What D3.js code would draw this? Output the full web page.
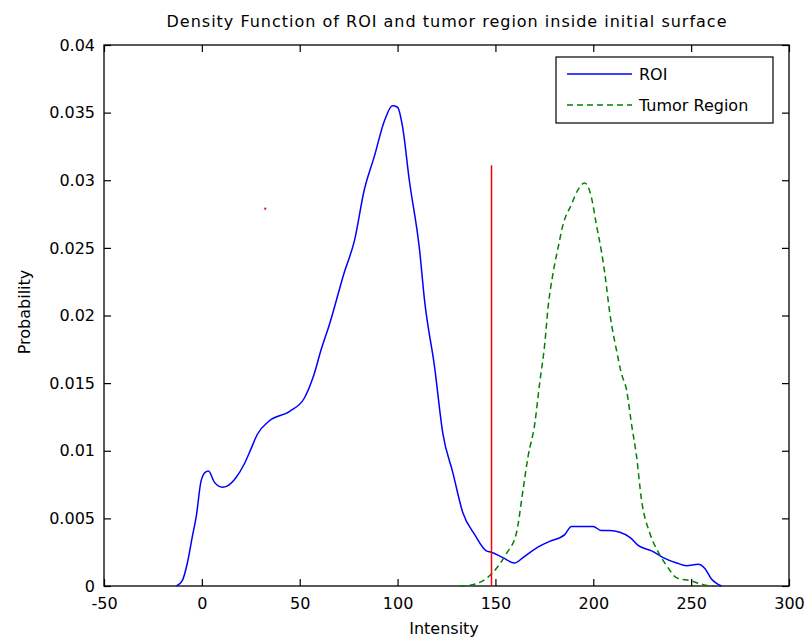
<!DOCTYPE html>
<html>
<head>
<meta charset="utf-8">
<script src="https://cdn.jsdelivr.net/npm/d3@7"></script>
<style>
  body { margin: 0; background: #fff; }
  text { font-family: "DejaVu Sans", Arial, sans-serif; font-size: 16px; fill: #000; }
</style>
</head>
<body>
<svg id="chart" width="805" height="640"></svg>
<script>
// Data

const roiX = [-13, -10, -7.4, -4.8, -2.8, -0.5, 1.7, 3.4, 6.3, 10.5, 13.1, 17.4, 21.6, 25, 28.3, 34.4, 44.7, 52.4, 57, 61, 65.1, 72.8, 77.9, 83, 88.2, 93.3, 97.4, 100, 102.5, 106, 111.2, 113.8, 118.9, 123.1, 128.2, 133.4, 139.4, 145.3, 147.9, 153.8, 159.8, 164.1, 170.9, 177.7, 185.4, 188.8, 199.9, 204.1, 208.4, 218.7, 222.9, 229.8, 235.7, 242.6, 247.7, 253.6, 257, 260.5, 265.6];
const roiY = [0, 0.0004, 0.0017, 0.0037, 0.0052, 0.0077, 0.0084, 0.0085, 0.0077, 0.0073, 0.0074, 0.008, 0.009, 0.0101, 0.0112, 0.0122, 0.0129, 0.0139, 0.0155, 0.0175, 0.0193, 0.0232, 0.0255, 0.0293, 0.0318, 0.0344, 0.0355, 0.0354, 0.0340, 0.0300, 0.0249, 0.0211, 0.0162, 0.0113, 0.0084, 0.0054, 0.0038, 0.0026, 0.0025, 0.0021, 0.0017, 0.0021, 0.0028, 0.0033, 0.0038, 0.0044, 0.0044, 0.0041, 0.0041, 0.0036, 0.003, 0.0026, 0.0021, 0.0017, 0.0015, 0.0016, 0.0013, 0.0005, 0];

const tumorX = [131.7, 138.5, 148.7, 155.6, 160.7, 164.1, 166.7, 170.1, 172.6, 175.2, 176.9, 179.4, 182, 184.5, 188.8, 192.2, 195.6, 199.1, 201.6, 204.1, 205.9, 208.5, 211.9, 214.4, 217, 219.5, 222.1, 224.6, 228.9, 233.2, 237.5, 242.6, 249.4, 256.2, 261.3];
const tumorY = [0, 0.0001, 0.001, 0.0024, 0.0039, 0.0071, 0.0096, 0.012, 0.015, 0.0179, 0.0206, 0.0231, 0.025, 0.0267, 0.0282, 0.0293, 0.0298, 0.0287, 0.0267, 0.0248, 0.0231, 0.0201, 0.0174, 0.0157, 0.0145, 0.012, 0.0096, 0.0064, 0.0039, 0.0025, 0.0015, 0.0006, 0.0004, 0.0001, 0];

// threshold line and the stray red point
const thresholdX = [148, 148];
const thresholdY = [0, 0.0311];
const strayPoint = [32.4, 0.0279];

const xTicks = [-50, 0, 50, 100, 150, 200, 250, 300];
const xTickLabels = ["-50", "0", "50", "100", "150", "200", "250", "300"];
const yTicks = [0, 0.005, 0.01, 0.015, 0.02, 0.025, 0.03, 0.035, 0.04];
const yTickLabels = ["0", "0.005", "0.01", "0.015", "0.02", "0.025", "0.03", "0.035", "0.04"];

const seriesNames = ["ROI", "Tumor Region"];
const seriesColors = ["#0000ff", "#008000"];

// Layout

const plotLeft = 104, plotRight = 789, plotTop = 45, plotBottom = 586;

const svg = d3.select("#chart");

const x = d3.scaleLinear().domain([-50, 300]).range([plotLeft, plotRight]);
const y = d3.scaleLinear().domain([0, 0.04]).range([plotBottom, plotTop]);

// Axes - ticks point inward like matlab
svg.append("g")
    .attr("transform", "translate(0," + plotBottom + ")")
    .call(d3.axisBottom(x).tickValues(xTicks).tickFormat((d, i) => xTickLabels[i])
        .tickSizeInner(-7).tickSizeOuter(0).tickPadding(12))
    .call(g => g.select(".domain").remove());

svg.append("g")
    .attr("transform", "translate(0," + plotTop + ")")
    .call(d3.axisTop(x).tickValues(xTicks).tickFormat("")
        .tickSizeInner(-7).tickSizeOuter(0))
    .call(g => g.select(".domain").remove());

svg.append("g")
    .attr("transform", "translate(" + plotLeft + ",0)")
    .call(d3.axisLeft(y).tickValues(yTicks).tickFormat((d, i) => yTickLabels[i])
        .tickSizeInner(-7).tickSizeOuter(0).tickPadding(9))
    .call(g => g.select(".domain").remove());

svg.append("g")
    .attr("transform", "translate(" + plotRight + ",0)")
    .call(d3.axisRight(y).tickValues(yTicks).tickFormat("")
        .tickSizeInner(-7).tickSizeOuter(0))
    .call(g => g.select(".domain").remove());

svg.selectAll(".tick line").attr("stroke", "#000").attr("stroke-width", 1.2);
svg.selectAll(".tick text").style("font-family", "DejaVu Sans, Arial, sans-serif").style("font-size", "16px");

// Frame
svg.append("rect")
    .attr("x", plotLeft).attr("y", plotTop)
    .attr("width", plotRight - plotLeft).attr("height", plotBottom - plotTop)
    .attr("fill", "none").attr("stroke", "#000").attr("stroke-width", 1.3);

// Curves
const line = d3.line()
    .x(d => x(d[0]))
    .y(d => y(d[1]))
    .curve(d3.curveMonotoneX);

const roi = roiX.map((v, i) => [v, roiY[i]]);
const tumor = tumorX.map((v, i) => [v, tumorY[i]]);

svg.append("path")
    .datum(roi)
    .attr("d", line)
    .attr("fill", "none")
    .attr("stroke", seriesColors[0])
    .attr("stroke-width", 1.5);

svg.append("path")
    .datum(tumor)
    .attr("d", line)
    .attr("fill", "none")
    .attr("stroke", seriesColors[1])
    .attr("stroke-width", 1.5)
    .attr("stroke-dasharray", "6,4");

svg.append("line")
    .attr("x1", x(thresholdX[0])).attr("x2", x(thresholdX[1]))
    .attr("y1", y(thresholdY[0])).attr("y2", y(thresholdY[1]))
    .attr("stroke", "#ff0000").attr("stroke-width", 1.5);

svg.append("rect")
    .attr("x", x(strayPoint[0]) - 1).attr("y", y(strayPoint[1]) - 1)
    .attr("width", 2).attr("height", 2)
    .attr("fill", "#ff0000");

// Legend
const legend = svg.append("g");
legend.append("rect")
    .attr("x", 556).attr("y", 57).attr("width", 217).attr("height", 66)
    .attr("fill", "#fff").attr("stroke", "#000").attr("stroke-width", 1.2);

seriesNames.forEach(function(name, i) {
    const ly = 74 + i * 31;
    legend.append("line")
        .attr("x1", 567).attr("x2", 632)
        .attr("y1", ly).attr("y2", ly)
        .attr("stroke", seriesColors[i])
        .attr("stroke-width", 1.5)
        .attr("stroke-dasharray", i === 1 ? "6,4" : null);
    legend.append("text")
        .attr("x", 639).attr("y", ly + 6)
        .text(name);
});

// Titles
svg.append("text")
    .attr("x", (plotLeft + plotRight) / 2).attr("y", 27)
    .attr("text-anchor", "middle")
    .attr("textLength", 560).attr("lengthAdjust", "spacing")
    .text("Density Function of ROI and tumor region inside initial surface");

svg.append("text")
    .attr("x", 444).attr("y", 634)
    .attr("text-anchor", "middle")
    .text("Intensity");

svg.append("text")
    .attr("transform", "translate(30,312) rotate(-90)")
    .attr("text-anchor", "middle")
    .text("Probability");
</script>
</body>
</html>
